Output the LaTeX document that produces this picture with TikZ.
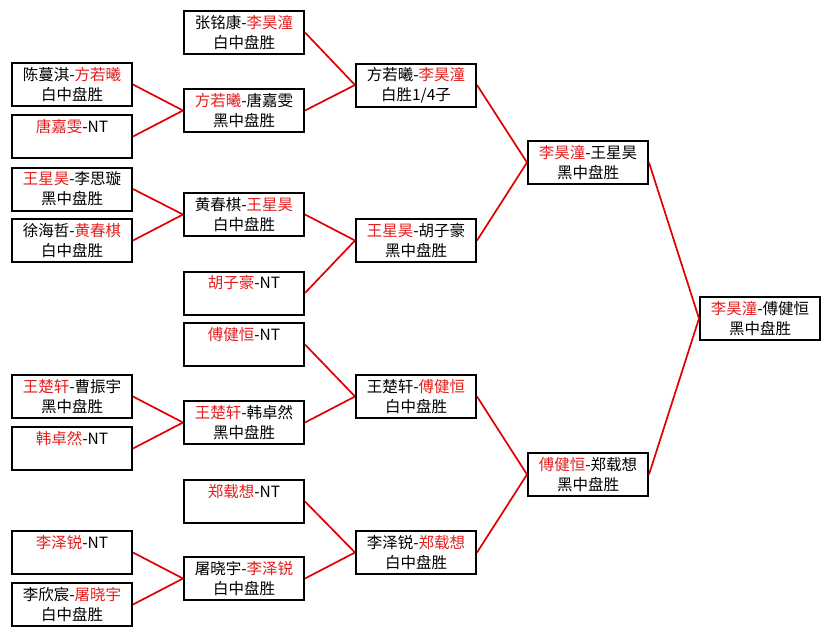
\documentclass[tikz,border=0pt]{standalone}
\usepackage{fontspec}
\setmainfont{Noto Sans CJK SC}
\definecolor{winred}{RGB}{228,30,30}
\definecolor{linkred}{RGB}{225,0,0}
\newcommand{\win}[1]{\textcolor{winred}{#1}}
\begin{document}
\begin{tikzpicture}[x=1pt, y=-1pt,
  box/.style={draw, line width=2pt, minimum width=120pt, minimum height=43pt,
    inner sep=0pt, align=center, font=\fontsize{15.5}{20}\selectfont},
  link/.style={draw=linkred, line width=1.7pt}]
  \useasboundingbox (0,0) rectangle (832,637);
  % first round
  \node[box] (c1a) at (72,84.5)  {陈蔓淇-\win{方若曦}\\白中盘胜};
  \node[box] (c1b) at (72,136.5) {\win{唐嘉雯}-NT\\\phantom{中}};
  \node[box] (c1c) at (72,189)   {\win{王星昊}-李思璇\\黑中盘胜};
  \node[box] (c1d) at (72,240.5) {徐海哲-\win{黄春棋}\\白中盘胜};
  \node[box] (c1e) at (72,396.5) {\win{王楚轩}-曹振宇\\黑中盘胜};
  \node[box] (c1f) at (72,448.5) {\win{韩卓然}-NT\\\phantom{中}};
  \node[box] (c1g) at (72,552.5) {\win{李泽锐}-NT\\\phantom{中}};
  \node[box] (c1h) at (72,604.5) {李欣宸-\win{屠晓宇}\\白中盘胜};
  % second round
  \node[box] (c2a) at (244,32.5)  {张铭康-\win{李昊潼}\\白中盘胜};
  \node[box] (c2b) at (244,110.5) {\win{方若曦}-唐嘉雯\\黑中盘胜};
  \node[box] (c2c) at (244,214.5) {黄春棋-\win{王星昊}\\白中盘胜};
  \node[box] (c2d) at (244,293)   {\win{胡子豪}-NT\\\phantom{中}};
  \node[box] (c2e) at (244,344.5) {\win{傅健恒}-NT\\\phantom{中}};
  \node[box] (c2f) at (244,422.5) {\win{王楚轩}-韩卓然\\黑中盘胜};
  \node[box] (c2g) at (244,501.5) {\win{郑载想}-NT\\\phantom{中}};
  \node[box] (c2h) at (244,578.5) {屠晓宇-\win{李泽锐}\\白中盘胜};
  % quarter finals
  \node[box] (c3a) at (416,85)    {方若曦-\win{李昊潼}\\白胜1/4子};
  \node[box] (c3b) at (416,240.5) {\win{王星昊}-胡子豪\\黑中盘胜};
  \node[box] (c3c) at (416,396.5) {王楚轩-\win{傅健恒}\\白中盘胜};
  \node[box] (c3d) at (416,552.5) {李泽锐-\win{郑载想}\\白中盘胜};
  % semi finals and final
  \node[box] (c4a) at (588,162.5) {\win{李昊潼}-王星昊\\黑中盘胜};
  \node[box] (c4b) at (588,474.5) {\win{傅健恒}-郑载想\\黑中盘胜};
  \node[box] (fin) at (760,318.5) {\win{李昊潼}-傅健恒\\黑中盘胜};
%
  \foreach \a/\b in {c1a/c2b, c1b/c2b, c1c/c2c, c1d/c2c, c1e/c2f, c1f/c2f, c1g/c2h, c1h/c2h,
    c2a/c3a, c2b/c3a, c2c/c3b, c2d/c3b, c2e/c3c, c2f/c3c, c2g/c3d, c2h/c3d,
    c3a/c4a, c3b/c4a, c3c/c4b, c3d/c4b, c4a/fin, c4b/fin} {
    \draw[link] (\a.east) -- (\b.west);
  }
\end{tikzpicture}
\end{document}
